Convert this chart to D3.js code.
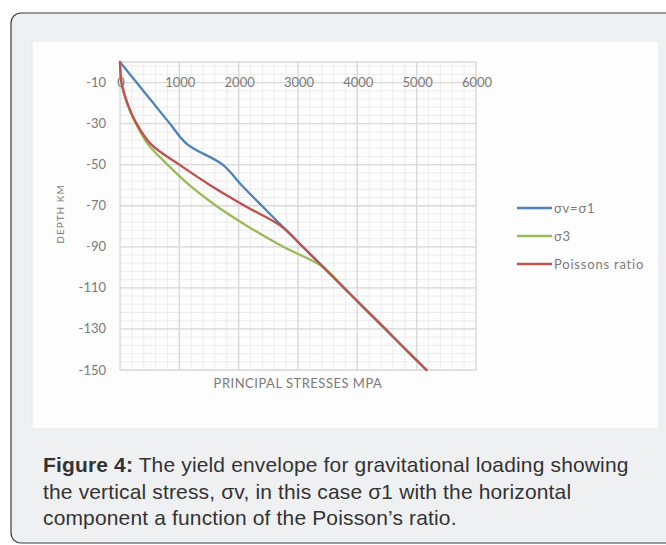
<!DOCTYPE html>
<html>
<head>
<meta charset="utf-8">
<script src="https://cdn.jsdelivr.net/npm/d3@7"></script>
<style>
  body { margin: 0; background: #ffffff; }
  svg { display: block; }
  .tick-label { font-family: Lato, "Liberation Sans", sans-serif; font-size: 13px; fill: #7a7a7a; }
  .caption { font-family: "Liberation Sans", Arial, sans-serif; font-size: 21px; fill: #333333; letter-spacing: 0.15px; }
</style>
</head>
<body>
<svg width="666" height="545"></svg>
<script>
// depth (km) and the three stress curves (MPa)
var depths   = [0, -10, -20, -30, -40, -50, -60, -70, -80, -90, -100, -110, -120, -130, -140, -150];
var sigma1   = [0, 280, 560, 840, 1130, 1730, 2050, 2390, 2735, 3080, 3430, 3775, 4120, 4470, 4815, 5165];
var sigma3   = [0, 25, 115, 265, 470, 800, 1170, 1620, 2150, 2750, 3430, 3775, 4120, 4470, 4815, 5165];
var poisson  = [0, 25, 125, 280, 520, 1000, 1520, 2100, 2720, 3080, 3430, 3775, 4120, 4470, 4815, 5165];

var seriesNames  = ["σv=σ1", "σ3", "Poissons ratio"];
var seriesColors = ["#4f81bd", "#9bbb59", "#c0504d"];
var xTicks = [0, 1000, 2000, 3000, 4000, 5000, 6000];
var yTicks = [-10, -30, -50, -70, -90, -110, -130, -150];

var svg = d3.select("svg");

// card behind everything
svg.append("rect")
    .attr("x", 11).attr("y", 13)
    .attr("width", 700).attr("height", 530)
    .attr("rx", 10).attr("ry", 10)
    .attr("fill", "#eff0f2")
    .attr("stroke", "#3a3a3a")
    .attr("stroke-width", 1.2);

// white chart panel
svg.append("rect")
    .attr("x", 32).attr("y", 41)
    .attr("width", 627).attr("height", 388)
    .attr("fill", "#fdfdfd")
    .attr("stroke", "#e8e8e8");

var x = d3.scaleLinear().domain([0, 6000]).range([120, 476]);
var y = d3.scaleLinear().domain([-150, 0]).range([370, 62]);

var grid = svg.append("g").attr("class", "grid");

// minor gridlines
grid.selectAll("line.minor-x")
    .data(d3.range(0, 6001, 200))
    .enter().append("line")
    .attr("x1", function (d) { return x(d); })
    .attr("x2", function (d) { return x(d); })
    .attr("y1", y(0)).attr("y2", y(-150))
    .attr("stroke", "#ececec").attr("stroke-width", 1);

grid.selectAll("line.minor-y")
    .data(d3.range(-150, 1, 4))
    .enter().append("line")
    .attr("x1", x(0)).attr("x2", x(6000))
    .attr("y1", function (d) { return y(d); })
    .attr("y2", function (d) { return y(d); })
    .attr("stroke", "#ececec").attr("stroke-width", 1);

// major gridlines
grid.selectAll("line.major-x")
    .data(xTicks)
    .enter().append("line")
    .attr("x1", function (d) { return x(d); })
    .attr("x2", function (d) { return x(d); })
    .attr("y1", y(0)).attr("y2", y(-150))
    .attr("stroke", "#d9d9d9").attr("stroke-width", 1.3);

grid.selectAll("line.major-y")
    .data(yTicks.concat([0]))
    .enter().append("line")
    .attr("x1", x(0)).attr("x2", x(6000))
    .attr("y1", function (d) { return y(d); })
    .attr("y2", function (d) { return y(d); })
    .attr("stroke", "#d9d9d9").attr("stroke-width", 1.3);

// tick labels
svg.append("g").selectAll("text")
    .data(xTicks)
    .enter().append("text")
    .attr("class", "tick-label")
    .attr("x", function (d) { return x(d) + 1; })
    .attr("y", y(-10))
    .attr("dy", "0.35em")
    .attr("text-anchor", "middle")
    .text(function (d) { return d; });

svg.append("g").selectAll("text")
    .data(yTicks)
    .enter().append("text")
    .attr("class", "tick-label")
    .attr("x", 106)
    .attr("y", function (d) { return y(d); })
    .attr("dy", "0.35em")
    .attr("text-anchor", "end")
    .text(function (d) { return d; });

// axis titles
svg.append("text")
    .attr("class", "tick-label")
    .style("font-size", "13px")
    .style("letter-spacing", "0.5px")
    .attr("x", 298).attr("y", 383)
    .attr("dy", "0.35em")
    .attr("text-anchor", "middle")
    .text("PRINCIPAL STRESSES MPA");

svg.append("text")
    .attr("class", "tick-label")
    .style("font-size", "10px")
    .style("letter-spacing", "1px")
    .attr("transform", "translate(60,214) rotate(-90)")
    .attr("dy", "0.35em")
    .attr("text-anchor", "middle")
    .text("DEPTH KM");

// lines
var series = [sigma1, sigma3, poisson];
var line = d3.line()
    .x(function (d) { return x(d[0]); })
    .y(function (d) { return y(d[1]); })
    .curve(d3.curveCatmullRom.alpha(0.5));

svg.append("g").selectAll("path")
    .data(series)
    .enter().append("path")
    .attr("d", function (s) { return line(s.map(function (v, i) { return [v, depths[i]]; })); })
    .attr("fill", "none")
    .attr("stroke", function (s, i) { return seriesColors[i]; })
    .attr("stroke-width", 2.3)
    .attr("stroke-linecap", "round");

// legend
var legend = svg.append("g").selectAll("g")
    .data(seriesNames)
    .enter().append("g")
    .attr("transform", function (d, i) { return "translate(517," + (208 + i * 28) + ")"; });

legend.append("line")
    .attr("x1", 0).attr("x2", 35)
    .attr("stroke", function (d, i) { return seriesColors[i]; })
    .attr("stroke-width", 2.3);

legend.append("text")
    .attr("class", "tick-label")
    .style("font-size", "13px")
    .style("letter-spacing", "0.8px")
    .attr("x", 37)
    .attr("dy", "0.35em")
    .text(function (d) { return d; });

// caption
var cap = svg.append("g").attr("class", "caption");
var capLines = [
  ["Figure 4:", " The yield envelope for gravitational loading showing"],
  ["", "the vertical stress, σv, in this case σ1 with the horizontal"],
  ["", "component a function of the Poisson’s ratio."]
];
capLines.forEach(function (c, i) {
  var t = cap.append("text")
      .attr("class", "caption")
      .attr("x", 43)
      .attr("y", 472 + i * 26.5);
  if (c[0]) t.append("tspan").style("font-weight", "bold").text(c[0]);
  t.append("tspan").text(c[1]);
});
</script>
</body>
</html>
